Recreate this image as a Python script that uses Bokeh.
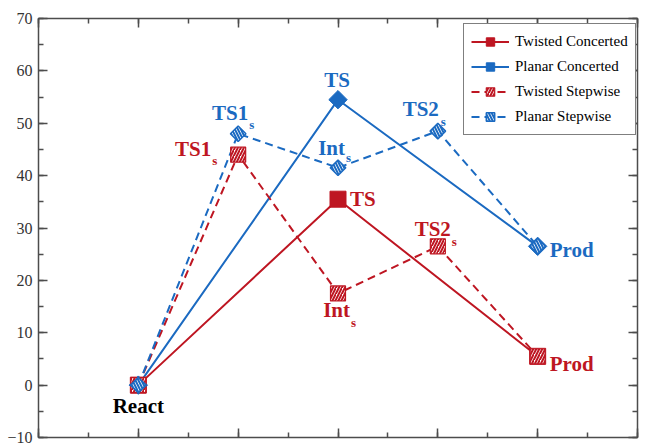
import numpy as np
from bokeh.plotting import figure
from bokeh.models import (LinearAxis, SingleIntervalTicker, Range1d, Legend, LegendItem,
                          CustomJSTickFormatter)
from bokeh.core.properties import value
from bokeh.embed import file_html
from bokeh.resources import INLINE

# ---------------- data ----------------
series_names = ["Twisted Concerted", "Planar Concerted", "Twisted Stepwise", "Planar Stepwise"]
tc_x = [1, 3, 5]
tc_y = [0, 35.5, 5.5]
pc_x = [1, 3, 5]
pc_y = [0, 54.5, 26.5]
ts_x = [1, 2, 3, 4, 5]
ts_y = [0, 44, 17.5, 26.5, 5.5]
ps_x = [1, 2, 3, 4, 5]
ps_y = [0, 48, 41.5, 48.5, 26.5]

# point labels: (series, point index, text, subscript)
label_series = ["ts", "pc", "ps", "ps", "ps", "ps", "tc", "ts", "ts", "ts", "ts"]
label_index = [0, 1, 1, 2, 3, 4, 1, 1, 2, 3, 4]
label_text = ["React", "TS", "TS1", "Int", "TS2", "Prod", "TS", "TS1", "Int", "TS2", "Prod"]
label_sub = ["", "", "s", "s", "s", "", "", "s", "s", "s", ""]

# ---------------- styles ----------------
RED = "#BE1622"
BLUE = "#1B6AC1"
AXIS = "#4d4d4d"
FONT = "Liberation Serif"

series_xy = {"tc": (tc_x, tc_y), "pc": (pc_x, pc_y), "ts": (ts_x, ts_y), "ps": (ps_x, ps_y)}
series_color = {"tc": RED, "pc": BLUE, "ts": RED, "ps": BLUE}
# per-label style: color override, align, dx, dy, sub dx, sub dy (screen px, +dy = down)
label_style = [
    ("black", "center", 0, 21, 0, 0),
    (None, "center", -1, -20, 0, 0),
    (None, "right", 10, -21, 11, -9),
    (None, "right", 7, -20, 8, -10),
    (None, "right", 1, -22, 3, -10),
    (None, "left", 12, 4, 0, 0),
    (None, "left", 12, 0, 0, 0),
    (None, "right", -27, -6, -26, 6),
    (None, "right", 12, 17, 13, 29),
    (None, "right", 13, -17, 14, -5),
    (None, "left", 12, 8, 0, 0),
]

p = figure(frame_width=599, frame_height=419,
           x_range=Range1d(0, 6), y_range=Range1d(-10, 70),
           x_axis_location=None, y_axis_location=None,
           output_backend="svg", toolbar_location=None,
           min_border_left=38, min_border_top=18, min_border_right=9, min_border_bottom=8,
           background_fill_color="white", border_fill_color="white")
p.grid.visible = False
p.outline_line_color = None

left_axis = LinearAxis(ticker=SingleIntervalTicker(interval=10, num_minor_ticks=2))
bottom_axis = LinearAxis(ticker=SingleIntervalTicker(interval=1, num_minor_ticks=2))
top_axis = LinearAxis(ticker=SingleIntervalTicker(interval=1, num_minor_ticks=2))
right_axis = LinearAxis(ticker=SingleIntervalTicker(interval=10, num_minor_ticks=2))
p.add_layout(left_axis, "left")
p.add_layout(bottom_axis, "below")
p.add_layout(top_axis, "above")
p.add_layout(right_axis, "right")

for ax in [left_axis, bottom_axis, top_axis, right_axis]:
    ax.axis_line_color = AXIS
    ax.axis_line_width = 1.5
    ax.major_tick_line_color = AXIS
    ax.minor_tick_line_color = AXIS
    ax.major_tick_line_width = 1.5
    ax.minor_tick_line_width = 1.5
    ax.major_tick_in = 9
    ax.major_tick_out = 0
    ax.minor_tick_in = 5
    ax.minor_tick_out = 0
for ax in [bottom_axis, top_axis, right_axis]:
    ax.formatter = CustomJSTickFormatter(code="return ''")
    ax.major_label_text_font_size = "1px"
    ax.major_label_standoff = 0
left_axis.major_label_text_font = FONT
left_axis.major_label_text_font_size = "16px"
left_axis.major_label_text_color = "#333333"
left_axis.major_label_standoff = 6

# lines
l_tc = p.line(tc_x, tc_y, line_color=RED, line_width=2)
l_pc = p.line(pc_x, pc_y, line_color=BLUE, line_width=2)
l_ts = p.line(ts_x, ts_y, line_color=RED, line_width=2, line_dash="8 5")
l_ps = p.line(ps_x, ps_y, line_color=BLUE, line_width=2, line_dash="8 5")

# markers
m_tc = p.scatter(tc_x, tc_y, marker="square", size=16, fill_color=RED, line_color=RED)
m_pc = p.scatter(pc_x, pc_y, marker="square", size=13, angle=np.pi / 4, fill_color=BLUE, line_color=BLUE)
m_ts = p.scatter(ts_x, ts_y, marker="square", size=15, fill_color="white", line_color=RED, line_width=1.2,
                 hatch_pattern="/", hatch_color=RED, hatch_scale=6, hatch_weight=2)
m_ps = p.scatter(ps_x, ps_y, marker="square", size=11, angle=np.pi / 4, fill_color="white", line_color=BLUE,
                 line_width=1.5, hatch_pattern="\\", hatch_color=BLUE, hatch_scale=6, hatch_weight=2)

# point labels
for s, i, t, sub, st in zip(label_series, label_index, label_text, label_sub, label_style):
    color, align, dx, dy, sdx, sdy = st
    xs, ys = series_xy[s]
    c = color or series_color[s]
    p.text(x=[xs[i]], y=[ys[i]], text=[t], x_offset=dx, y_offset=dy,
           text_align=align, text_baseline="middle", text_color=c,
           text_font=value(FONT), text_font_style="bold", text_font_size="21px")
    if sub:
        p.text(x=[xs[i]], y=[ys[i]], text=[sub], x_offset=sdx, y_offset=sdy,
               text_align="left", text_baseline="middle", text_color=c,
               text_font=value(FONT), text_font_style="bold", text_font_size="13px")

legend = Legend(items=[
    LegendItem(label=series_names[0], renderers=[l_tc, m_tc]),
    LegendItem(label=series_names[1], renderers=[l_pc, m_pc]),
    LegendItem(label=series_names[2], renderers=[l_ts, m_ts]),
    LegendItem(label=series_names[3], renderers=[l_ps, m_ps]),
], location=(425, 302))
legend.border_line_color = "black"
legend.border_line_width = 1
legend.background_fill_color = "white"
legend.background_fill_alpha = 1
legend.padding = 7
legend.margin = 0
legend.spacing = 4
legend.glyph_width = 38
legend.glyph_height = 21
legend.label_standoff = 6
legend.label_text_font = FONT
legend.label_text_font_size = "15px"
legend.label_text_color = "black"
legend.label_text_baseline = "middle"
p.add_layout(legend)

open("out.html", "w").write(file_html(p, INLINE))
